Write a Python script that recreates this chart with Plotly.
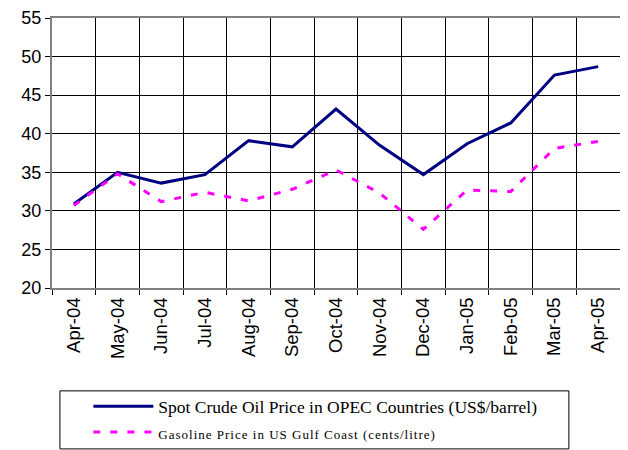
import plotly.graph_objects as go

months = ["Apr-04", "May-04", "Jun-04", "Jul-04", "Aug-04", "Sep-04", "Oct-04",
          "Nov-04", "Dec-04", "Jan-05", "Feb-05", "Mar-05", "Apr-05"]
crude = [30.9, 35.0, 33.6, 34.7, 39.1, 38.3, 43.2, 38.5, 34.7, 38.7, 41.4, 47.6, 48.7]
gasoline = [30.7, 34.8, 31.2, 32.4, 31.3, 32.8, 35.3, 32.3, 27.6, 32.7, 32.5, 38.1, 39.0]
crude_name = "Spot Crude Oil Price in OPEC Countries (US$/barrel)"
gas_name = "Gasoline Price in US Gulf Coast (cents/litre)"

fig = go.Figure()
fig.add_trace(go.Scatter(x=months, y=crude, mode="lines", name=crude_name,
                         line=dict(color="#000080", width=3)))
fig.add_trace(go.Scatter(x=months, y=gasoline, mode="lines",
                         name='<span style="font-size:13px;letter-spacing:1px">' + gas_name + '</span>',
                         line=dict(color="#FF00FF", width=3, dash="7px,10px")))

fig.update_layout(
    width=628, height=450,
    margin=dict(l=44, r=16, t=10, b=170, autoexpand=False),
    paper_bgcolor="white", plot_bgcolor="white",
    font=dict(family="Liberation Sans, Arial", color="black"),
    showlegend=True,
    legend=dict(x=0.064, y=-0.372, xanchor="left", yanchor="top",
                font=dict(family="Liberation Serif, Times New Roman", size=17.5, color="black"),
                bgcolor="rgba(0,0,0,0)", borderwidth=0, tracegroupgap=0,
                itemwidth=60),
    shapes=[dict(type="rect", xref="paper", yref="paper",
                 x0=0.014, x1=0.910, y0=-0.596, y1=-0.381,
                 line=dict(color="black", width=1), fillcolor="rgba(0,0,0,0)")],
)
fig.update_xaxes(type="category", tickson="boundaries", range=[-0.5, 12.5],
                 showgrid=True, automargin=False,
                 gridcolor="black", gridwidth=1, ticks="outside", ticklen=5,
                 tickcolor="black", tickangle=-90,
                 tickfont=dict(size=18.5, family="Liberation Sans, Arial"),
                 showline=True, linecolor="#808080", linewidth=2, mirror=True)
fig.update_yaxes(range=[20, 55], dtick=5, showgrid=True, gridcolor="black",
                 gridwidth=1, ticks="outside", ticklen=5, tickcolor="black",
                 automargin=False,
                 tickfont=dict(size=18, family="Liberation Sans, Arial"),
                 showline=True, linecolor="#808080", linewidth=2, mirror=True,
                 zeroline=False)

fig.write_html("out.html")
